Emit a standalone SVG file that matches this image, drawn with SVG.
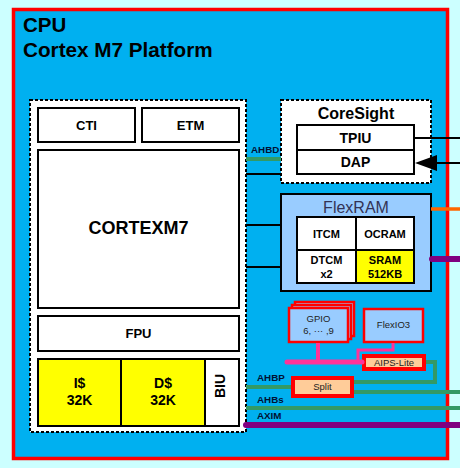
<svg xmlns="http://www.w3.org/2000/svg" width="460" height="468" viewBox="0 0 460 468">
<defs>
<style>
text{font-family:"Liberation Sans",Arial,sans-serif;fill:#000;}
.b{font-weight:bold;}
.box{fill:#fff;stroke:#000;stroke-width:2;}
.yel{fill:#ffff00;stroke:#000;stroke-width:2;}
.dash{fill:#fff;stroke:#000;stroke-width:2;stroke-dasharray:3 2;}
.per{fill:#99ccff;stroke:#ff0000;stroke-width:2.5;}
.br{fill:#ffcc99;stroke:#ff0000;stroke-width:4;}
.blk{stroke:#000;stroke-width:2;fill:none;}
.grn{stroke:#339966;stroke-width:4;fill:none;}
.pur{stroke:#800080;stroke-width:6;fill:none;stroke-linecap:round;}
.pnk{stroke:#ff3399;fill:none;}
.lbl{font-size:9.8px;font-weight:bold;fill:#001133;}
.sm{font-size:9.5px;fill:#222;}
</style>
</defs>
<rect x="0" y="0" width="460" height="468" fill="#ccffff"/>
<g id="cpu">
<rect x="13.5" y="9.5" width="434" height="449" fill="#00b0f0" stroke="#ff0000" stroke-width="3.5"/>
<text x="23" y="32" class="b" font-size="20.5">CPU</text>
<text x="23" y="57" class="b" font-size="20.7">Cortex M7 Platform</text>
</g>
<g id="core">
<rect x="30" y="100" width="216" height="332" class="dash"/>
<g id="cti"><rect x="38" y="108" width="97" height="34" class="box"/><text x="86.5" y="130" class="b" font-size="13" text-anchor="middle">CTI</text></g>
<g id="etm"><rect x="142" y="108" width="97" height="34" class="box"/><text x="190.5" y="130" class="b" font-size="13" text-anchor="middle">ETM</text></g>
<g id="cortexm7"><rect x="38" y="150" width="201" height="158" class="box"/><text x="138.5" y="234" class="b" font-size="18" text-anchor="middle">CORTEXM7</text></g>
<g id="fpu"><rect x="38" y="316" width="201" height="35" class="box"/><text x="138.5" y="338" class="b" font-size="13" text-anchor="middle">FPU</text></g>
<g id="icache"><rect x="38" y="359" width="83" height="67" class="yel"/><text x="79.5" y="388" class="b" font-size="14" text-anchor="middle">I$</text><text x="79.5" y="405" class="b" font-size="14" text-anchor="middle">32K</text></g>
<g id="dcache"><rect x="121" y="359" width="84" height="67" class="yel"/><text x="163" y="388" class="b" font-size="14" text-anchor="middle">D$</text><text x="163" y="405" class="b" font-size="14" text-anchor="middle">32K</text></g>
<g id="biu"><rect x="205" y="359" width="34" height="67" class="box"/><text transform="translate(225,386) rotate(-90)" x="0" y="0" class="b" font-size="14" text-anchor="middle">BIU</text></g>
</g>
<g id="coresight">
<rect x="281" y="100" width="150" height="83" class="dash"/>
<text x="356" y="119" class="b" font-size="16" text-anchor="middle">CoreSight</text>
<g id="tpiu"><rect x="297" y="125" width="117" height="25" class="box"/><text x="355.5" y="143" class="b" font-size="14" text-anchor="middle">TPIU</text></g>
<g id="dap"><rect x="297" y="150" width="117" height="24" class="box"/><text x="355.5" y="167" class="b" font-size="14" text-anchor="middle">DAP</text></g>
</g>
<g id="flexram">
<rect x="281" y="194" width="150" height="97" fill="#99ccff" stroke="#000" stroke-width="2"/>
<text x="356" y="213" font-size="16" text-anchor="middle" style="fill:#333355">FlexRAM</text>
<g id="itcm"><rect x="297" y="217" width="59" height="33" class="box"/><text x="326.5" y="238" class="b" font-size="11" text-anchor="middle">ITCM</text></g>
<g id="ocram"><rect x="356" y="217" width="58" height="33" class="box"/><text x="385" y="238" class="b" font-size="11" text-anchor="middle">OCRAM</text></g>
<g id="dtcm"><rect x="297" y="250" width="59" height="33" class="box"/><text x="326.5" y="264" class="b" font-size="11" text-anchor="middle">DTCM</text><text x="326.5" y="278" class="b" font-size="11" text-anchor="middle">x2</text></g>
<g id="sram"><rect x="356" y="250" width="58" height="33" class="yel"/><text x="385" y="264" class="b" font-size="11" text-anchor="middle">SRAM</text><text x="385" y="278" class="b" font-size="11" text-anchor="middle">512KB</text></g>
</g>
<g id="gpio">
<rect x="295" y="302" width="59" height="34" class="per"/>
<rect x="292" y="305" width="59" height="34" class="per"/>
<rect x="289" y="308" width="59" height="34" class="per"/>
<text x="318.5" y="322" class="sm" text-anchor="middle">GPIO</text>
<text x="318.5" y="334" class="sm" text-anchor="middle">6, ··· ,9</text>
</g>
<g id="flexio3">
<rect x="364" y="309" width="59" height="33" class="per"/>
<text x="393.5" y="328" class="sm" text-anchor="middle">FlexIO3</text>
</g>
<g id="aips">
<rect x="364" y="356" width="60" height="13" class="br"/>
<text x="394" y="366" class="sm" text-anchor="middle">AIPS-Lite</text>
</g>
<g id="split">
<rect x="293" y="378" width="59" height="18" class="br"/>
<text x="322.5" y="390" class="sm" text-anchor="middle">Split</text>
</g>
<g id="connectors">
<line x1="246" y1="159" x2="281" y2="159" class="grn"/>
<line x1="246" y1="174" x2="281" y2="174" class="blk"/>
<line x1="246" y1="225" x2="281" y2="225" class="blk"/>
<line x1="246" y1="267" x2="281" y2="267" class="blk"/>
<line x1="414" y1="138" x2="460" y2="138" class="blk"/>
<line x1="460" y1="163" x2="437" y2="163" class="blk"/>
<path d="M415,163 L437,155 L437,171 Z" fill="#000"/>
<line x1="431" y1="209" x2="460" y2="209" stroke="#ff6600" stroke-width="3.5"/>
<line x1="432" y1="259" x2="460" y2="259" class="pur"/>
<line x1="287" y1="362" x2="362" y2="362" class="pnk" stroke-width="5" stroke-linecap="round"/>
<line x1="318" y1="343" x2="318" y2="362" class="pnk" stroke-width="4"/>
<polyline points="393,343 393,350 358,350 358,362" class="pnk" stroke-width="3"/>
<polyline points="426,362 435,362 435,382 354,382" class="grn"/>
<line x1="246" y1="387" x2="291" y2="387" class="grn"/>
<line x1="354" y1="392" x2="460" y2="392" class="grn"/>
<line x1="246" y1="408" x2="460" y2="408" class="grn"/>
<line x1="246" y1="425" x2="460" y2="425" class="pur"/>
<text x="251" y="153" class="lbl">AHBD</text>
<text x="257" y="381" class="lbl">AHBP</text>
<text x="257" y="403" class="lbl">AHBs</text>
<text x="257" y="419" class="lbl">AXIM</text>
</g>
</svg>
